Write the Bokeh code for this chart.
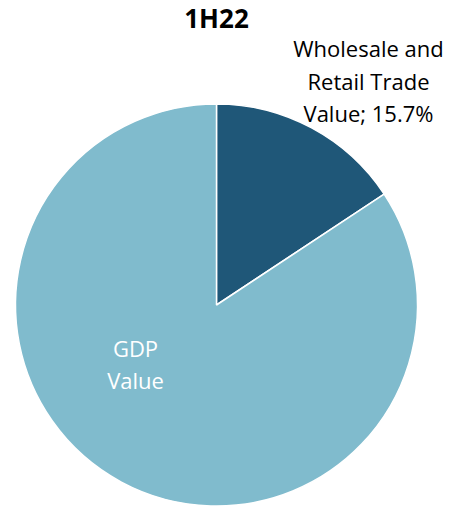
import math
from bokeh.plotting import figure
from bokeh.models import ColumnDataSource, Range1d
from bokeh.core.properties import value
from bokeh.embed import file_html
from bokeh.resources import INLINE

# Data
title = "1H22"
categories = ["Wholesale and Retail Trade Value", "GDP Value"]
shares = [15.7, 84.3]
colors = ["#1F5778", "#80BBCD"]
wedge_label = ["Wholesale and", "Retail Trade", "Value; 15.7%"]
gdp_label = ["GDP", "Value"]

W, H = 451, 508
p = figure(width=W, height=H, output_backend="svg", toolbar_location=None,
           x_range=Range1d(0, W), y_range=Range1d(0, H), min_border=0)
p.axis.visible = False
p.grid.visible = False
p.outline_line_color = None
p.background_fill_color = "white"
p.border_fill_color = "white"

total = sum(shares)
starts, ends = [], []
cum = 0.0
for s in shares:
    a0 = math.pi / 2 - cum / total * 2 * math.pi
    cum += s
    a1 = math.pi / 2 - cum / total * 2 * math.pi
    starts.append(a0)
    ends.append(a1)

cx, cy, r = 216, 203.5, 201
src = ColumnDataSource(dict(cat=categories, val=shares, start=starts, end=ends, color=colors))
p.wedge(x=cx, y=cy, radius=r, start_angle="start", end_angle="end", direction="clock",
        fill_color="color", line_color="white", line_width=1.5, source=src)

# Title
p.text(x=[216], y=[491], text=[title], text_font=value("Open Sans"), text_font_style="bold",
       text_font_size="26px", text_align="center", text_baseline="alphabetic", text_color="black")

# Wedge label
p.text(x=[368] * 3, y=[461, 428, 396], text=wedge_label, text_font=value("Open Sans"),
       text_font_size="22px", text_align="center", text_baseline="alphabetic", text_color="#000000")

# GDP label
p.text(x=[135] * 2, y=[161, 129], text=gdp_label, text_font=value("Open Sans"),
       text_font_size="22px", text_align="center", text_baseline="alphabetic", text_color="white")

open("out.html", "w").write(file_html(p, INLINE))
